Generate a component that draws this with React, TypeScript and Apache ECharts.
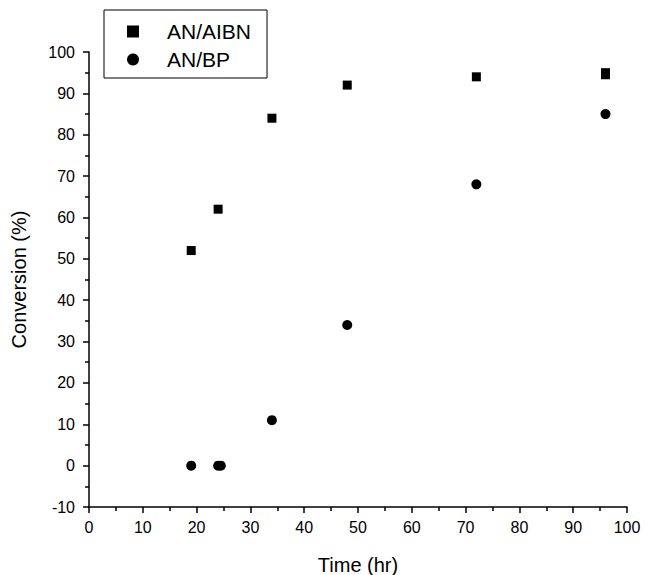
import React, { useEffect, useRef } from "react";
import * as echarts from "echarts";

const timeAIBN = [19, 24, 34, 48, 72, 96, 96];
const convAIBN = [52, 62, 84, 92, 94, 95, 94.5];
const timeBP = [19, 24, 24.5, 34, 48, 72, 96];
const convBP = [0, 0, 0, 11, 34, 68, 85];
const xName = "Time (hr)";
const yName = "Conversion (%)";

export default function App() {
  const ref = useRef<HTMLDivElement>(null);
  useEffect(() => {
    const chart = echarts.init(ref.current!, null, { renderer: "svg" });
    const font = "'Liberation Sans', Arial, sans-serif";
    const axisCommon = {
      axisLine: { show: true, onZero: false, lineStyle: { color: "#000", width: 1.5 } },
      axisTick: { show: true, inside: false, length: 6, lineStyle: { color: "#000", width: 1.5 } },
      minorTick: { show: true, splitNumber: 2, length: 4, lineStyle: { color: "#000", width: 1.5 } },
      splitLine: { show: false },
      axisLabel: { color: "#000", fontSize: 16, fontFamily: font },
      nameTextStyle: { color: "#000", fontSize: 20, fontFamily: font },
    };
    chart.setOption({
      animation: false,
      backgroundColor: "#fff",
      grid: { left: 89, right: 25, top: 52, bottom: 68, containLabel: false, outerBoundsMode: "none" },
      legend: {
        orient: "vertical",
        left: 104,
        top: 10,
        padding: [11, 16, 8, 23],
        borderColor: "#000",
        borderWidth: 1,
        itemGap: 7,
        itemWidth: 12,
        itemHeight: 12,
        textStyle: { color: "#000", fontSize: 21, lineHeight: 20, fontFamily: font, padding: [0, 0, 0, 23] },
        data: [
          { name: "AN/AIBN", icon: "rect" },
          { name: "AN/BP", icon: "circle" },
        ],
      },
      xAxis: {
        ...axisCommon,
        type: "value",
        min: 0,
        max: 100,
        interval: 10,
        name: xName,
        nameLocation: "middle",
        nameGap: 48,
        axisLabel: { ...axisCommon.axisLabel, margin: 12 },
      },
      yAxis: {
        ...axisCommon,
        type: "value",
        min: -10,
        max: 100,
        interval: 10,
        name: yName,
        nameLocation: "middle",
        nameGap: 60,
        axisLabel: { ...axisCommon.axisLabel, margin: 14 },
      },
      series: [
        {
          name: "AN/AIBN",
          type: "scatter",
          symbol: "rect",
          symbolSize: 9,
          itemStyle: { color: "#000", opacity: 1 },
          data: timeAIBN.map((t, i) => [t, convAIBN[i]]),
        },
        {
          name: "AN/BP",
          type: "scatter",
          symbol: "circle",
          symbolSize: 10,
          itemStyle: { color: "#000", opacity: 1 },
          data: timeBP.map((t, i) => [t, convBP[i]]),
        },
      ],
    });
    return () => chart.dispose();
  }, []);
  return <div ref={ref} style={{ width: 652, height: 575, position: "absolute", left: 0, top: 0 }} />;
}
